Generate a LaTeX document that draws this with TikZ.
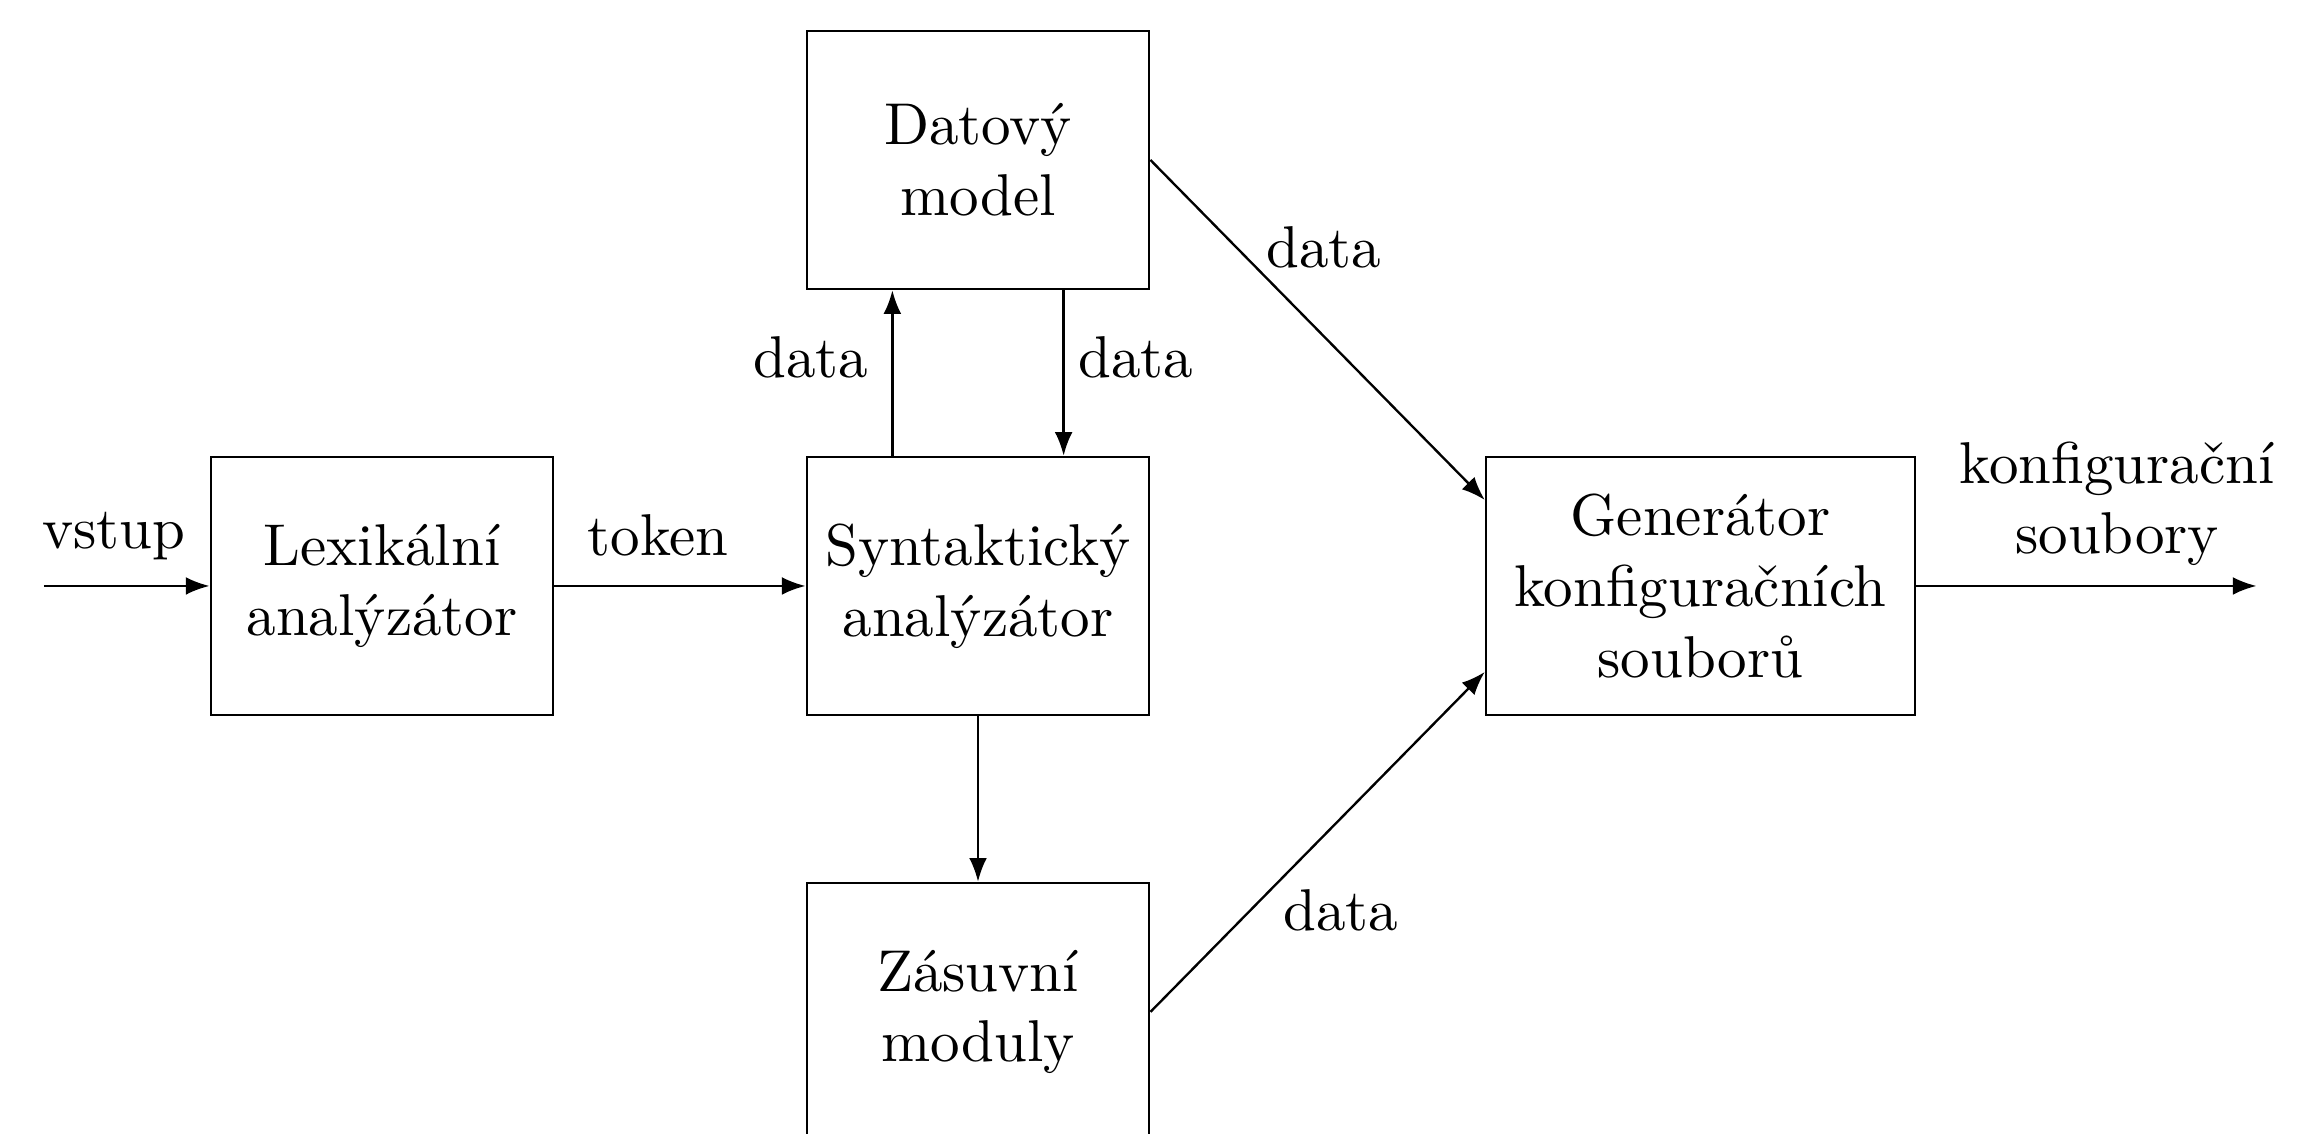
\documentclass[tikz,border=0pt]{standalone}
\usepackage{tikz}
\usetikzlibrary{arrows.meta,calc}

\begin{document}
\begin{tikzpicture}[
    box/.style={draw, minimum width=2.04cm, minimum height=1.537cm, align=center, inner sep=2pt},
    flow/.style={-{Latex[length=4pt,width=3pt]}},
    lbl/.style={inner sep=0pt, align=center}
  ]
    \useasboundingbox (0,0) rectangle (13.818,-6.754);
    % blocks
    \node[box] (lex) at (2.275,-3.49) {Lexikální\\analýzátor};
    \node[box] (syn) at (5.825,-3.49) {Syntaktický\\analýzátor};
    \node[box] (dat) at (5.825,-0.953) {Datový\\model};
    \node[box] (zas) at (5.825,-6.027) {Zásuvní\\moduly};
    \node[box, minimum width=2.555cm] (gen) at (10.128,-3.49) {Generátor\\konfiguračních\\souborů};
    % free ends
    \coordinate (in) at (0.262,-3.49);
    \coordinate (out) at (13.44,-3.49);
    % connectors
    \draw[flow] (in) -- (lex);
    \draw[flow] (lex) -- (syn);
    \draw[flow] ($(syn.north)+(-0.51,0)$) -- ($(dat.south)+(-0.51,0)$);
    \draw[flow] ($(dat.south)+(0.51,0)$) -- ($(syn.north)+(0.51,0)$);
    \draw[flow] (syn) -- (zas);
    \draw[flow] (dat.east) -- ($(gen.west)+(0,0.512)$);
    \draw[flow] (zas.east) -- ($(gen.west)+(0,-0.512)$);
    \draw[flow] (gen) -- (out);
    % labels
    \node[lbl] (vstup) at (0.679,-3.19) {vstup};
    \node[lbl] (token) at (3.92,-3.19) {token};
    \node[lbl] (dataup) at (4.83,-2.126) {data};
    \node[lbl] (datadown) at (6.766,-2.126) {data};
    \node[lbl] (datadat) at (7.886,-1.471) {data};
    \node[lbl] (datazas) at (7.985,-5.42) {data};
    \node[lbl] (konf) at (12.61,-3.0) {konfigurační\\soubory};
\end{tikzpicture}
\end{document}
